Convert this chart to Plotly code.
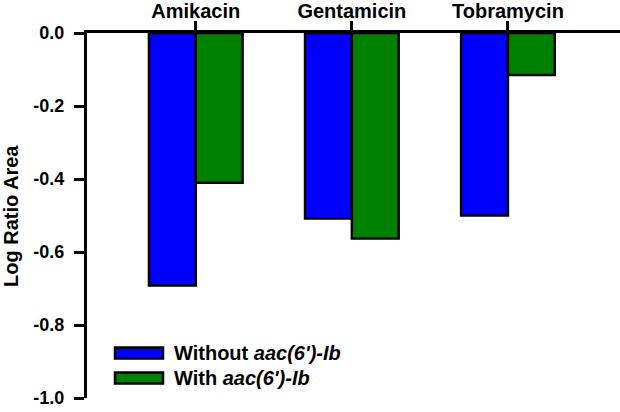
import plotly.graph_objects as go

drugs = ["Amikacin", "Gentamicin", "Tobramycin"]
without_vals = [-0.692, -0.508, -0.50]
with_vals = [-0.41, -0.563, -0.115]
series_names = ["Without <i>aac(6')-Ib</i>", "With <i>aac(6')-Ib</i>"]
series_colors = ["#0000FF", "#008000"]
y_tickvals = [0.0, -0.2, -0.4, -0.6, -0.8, -1.0]
y_ticktext = ["0.0", "-0.2", "-0.4", "-0.6", "-0.8", "-1.0"]
y_title = "Log Ratio Area"

W, H = 620, 412
ML, MR, MT, MB = 87, 0, 33, 14
FONT = "Liberation Sans, Arial, sans-serif"


def px_x(px):
    return (px - ML) / (W - ML - MR)


def px_y(py):
    return (H - MB - py) / (H - MT - MB)


fig = go.Figure()
for name, vals, color in zip(series_names, [without_vals, with_vals], series_colors):
    fig.add_trace(go.Bar(
        x=drugs, y=vals, name=name,
        marker=dict(color=color, line=dict(color="black", width=2.5)),
        showlegend=False,
    ))

# legend drawn by hand so the swatches are wide rectangles
for i, (name, color) in enumerate(zip(series_names, series_colors)):
    cy = 353 + i * 25
    fig.add_shape(
        type="rect", xref="paper", yref="paper",
        x0=px_x(115), x1=px_x(163), y0=px_y(cy + 5.5), y1=px_y(cy - 5.5),
        fillcolor=color, line=dict(color="black", width=2.5),
    )
    fig.add_annotation(
        xref="paper", yref="paper", x=px_x(172), y=px_y(cy),
        text=f"<b>{name}</b>", showarrow=False,
        xanchor="left", yanchor="middle",
        font=dict(family=FONT, size=20, color="black"),
    )

# y title placed by hand, closer to the page edge than plotly puts it
fig.add_annotation(
    xref="paper", yref="paper", x=px_x(11), y=px_y(216),
    text=f"<b>{y_title}</b>", showarrow=False, textangle=-90,
    xanchor="center", yanchor="middle",
    font=dict(family=FONT, size=20, color="black"),
)

fig.update_layout(
    width=W, height=H,
    margin=dict(l=ML, r=MR, t=MT, b=MB),
    paper_bgcolor="white", plot_bgcolor="white",
    barmode="group", bargap=0.4, bargroupgap=0,
    font=dict(family=FONT, size=18, color="black"),
    xaxis=dict(
        side="top", range=[-0.697, 2.718], automargin=False,
        showline=True, linecolor="black", linewidth=3,
        ticks="outside", ticklen=9, tickwidth=3, tickcolor="black",
        ticklabelstandoff=-5,
        showgrid=False, zeroline=False,
        tickfont=dict(family=FONT, size=20, weight="bold"),
    ),
    yaxis=dict(
        range=[-1.0, 0.0], automargin=False,
        tickvals=y_tickvals, ticktext=y_ticktext,
        showline=True, linecolor="black", linewidth=3,
        ticks="outside", ticklen=10, tickwidth=3, tickcolor="black",
        ticklabelstandoff=6,
        showgrid=False, zeroline=False,
        tickfont=dict(family=FONT, size=18, weight="bold"),
    ),
)

# drop the browser's default body margin so the figure sits at the page corner
fig.write_html(
    "out.html",
    config={"displayModeBar": False},
    post_script="document.body.style.margin = '0';",
)
